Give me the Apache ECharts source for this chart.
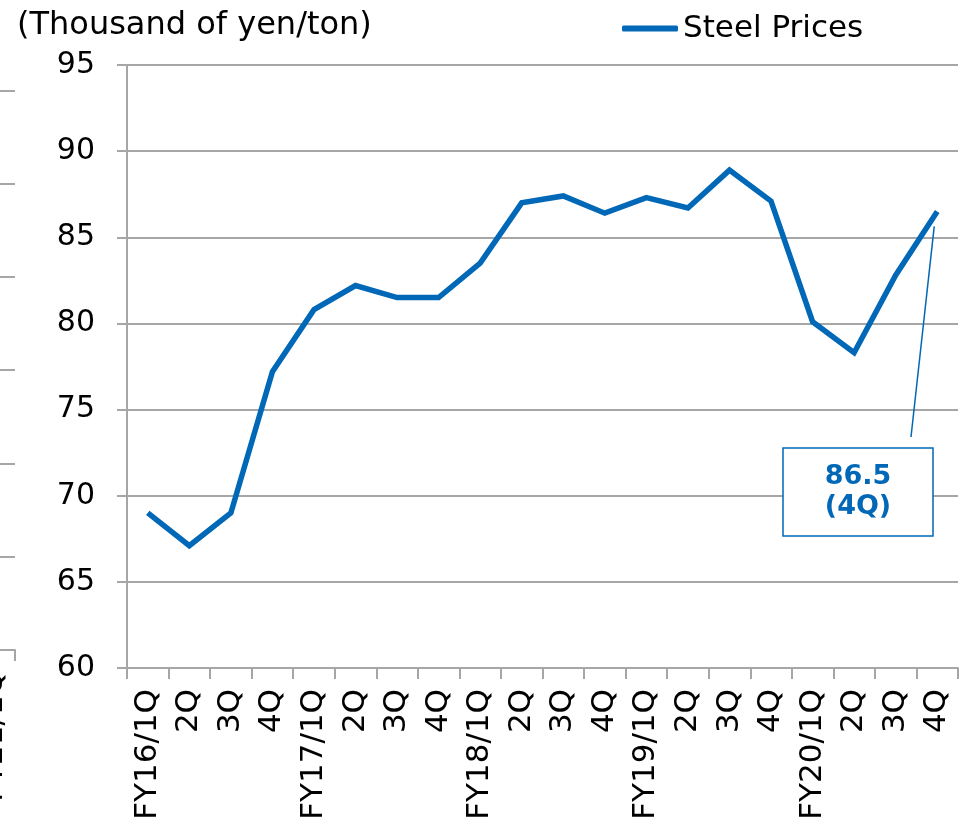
<!DOCTYPE html>
<html>
<head>
<meta charset="utf-8">
<script src="https://cdn.jsdelivr.net/npm/echarts@6/dist/echarts.min.js"></script>
<style>
html,body{margin:0;padding:0;background:#fff;}
#chart{width:978px;height:826px;}
</style>
</head>
<body>
<div id="chart"></div>
<script>
const categories = ['FY16/1Q','2Q','3Q','4Q','FY17/1Q','2Q','3Q','4Q','FY18/1Q','2Q','3Q','4Q','FY19/1Q','2Q','3Q','4Q','FY20/1Q','2Q','3Q','4Q'];
const steelPrices = [69.0,67.1,69.0,77.2,80.8,82.2,81.5,81.5,83.5,87.0,87.4,86.4,87.3,86.7,88.9,87.1,80.1,78.3,82.8,86.5];
const yTicks = {min: 60, max: 95, interval: 5};
const unitLabel = '(Thousand of yen/ton)';
const seriesName = 'Steel Prices';
const annotationText = '86.5\n(4Q)';
const annotationIndex = 19;
// clipped neighbouring chart at the left edge
const prevCategories = ['', '', '', '', '', '', '', 'FY21/1Q'];

const FONT = 'DejaVu Sans';
const GRID_COLOR = '#a6a6a6';
const BLUE = '#0068b7';

const chart = echarts.init(document.getElementById('chart'));
const option = {
  animation: false,
  textStyle: {fontFamily: FONT},
  title: {
    text: unitLabel, left: 12, top: 5,
    textStyle: {fontFamily: FONT, fontSize: 32, fontWeight: 'normal', color: '#000'}
  },
  legend: {
    data: [{name: seriesName, icon: 'roundRect'}], left: 617, top: 8,
    itemWidth: 56, itemHeight: 6, itemGap: 5,
    itemStyle: {color: BLUE},
    textStyle: {fontFamily: FONT, fontSize: 31, color: '#000'}
  },
  grid: [
    {left: 127, right: 20, top: 65, bottom: 158, containLabel: false, outerBoundsMode: 'none'},
    {left: -317, right: 963, top: -3, bottom: 176, containLabel: false, outerBoundsMode: 'none'}
  ],
  xAxis: [
    {
      type: 'category', gridIndex: 0, data: categories, boundaryGap: true,
      axisLine: {lineStyle: {color: GRID_COLOR, width: 2}},
      axisTick: {show: true, alignWithLabel: false, length: 11, lineStyle: {color: GRID_COLOR, width: 2}},
      axisLabel: {interval: 0, rotate: 90, fontSize: 31, color: '#000', margin: 21, fontFamily: FONT}
    },
    {
      type: 'category', gridIndex: 1, data: prevCategories, boundaryGap: true,
      axisLine: {lineStyle: {color: GRID_COLOR, width: 2}},
      axisTick: {show: true, length: 11, lineStyle: {color: GRID_COLOR, width: 2}},
      axisLabel: {interval: 0, rotate: 90, fontSize: 31, color: '#000', margin: 21, fontFamily: FONT}
    }
  ],
  yAxis: [
    {
      type: 'value', gridIndex: 0, min: yTicks.min, max: yTicks.max, interval: yTicks.interval,
      axisLine: {show: true, lineStyle: {color: GRID_COLOR, width: 2}},
      axisTick: {show: true, length: 10, lineStyle: {color: GRID_COLOR, width: 2}},
      axisLabel: {fontSize: 30, color: '#000', margin: 32, fontFamily: FONT},
      splitLine: {show: true, lineStyle: {color: GRID_COLOR, width: 2}}
    },
    {
      type: 'value', gridIndex: 1, min: 0, max: 7, interval: 1,
      axisLine: {show: false}, axisTick: {show: false}, axisLabel: {show: false},
      splitLine: {show: true, lineStyle: {color: GRID_COLOR, width: 2}}
    }
  ],
  series: [
    {
      name: seriesName, type: 'line', xAxisIndex: 0, yAxisIndex: 0,
      data: steelPrices, symbol: 'none', smooth: false,
      lineStyle: {color: BLUE, width: 5.5, join: 'miter'},
      itemStyle: {color: BLUE}
    }
  ]
};
chart.setOption(option);

// annotation box with leader line to the last point
const pt = chart.convertToPixel({xAxisIndex: 0, yAxisIndex: 0}, [annotationIndex, steelPrices[annotationIndex]]);
const box = {x: 783, y: 448, w: 150, h: 88};
chart.setOption({
  graphic: [
    {
      type: 'line', z: 100,
      shape: {x1: box.x + 128, y1: box.y - 11, x2: pt[0] - 3, y2: pt[1] + 15},
      style: {stroke: BLUE, lineWidth: 1.5}
    },
    {
      type: 'rect', z: 100,
      shape: {x: box.x, y: box.y, width: box.w, height: box.h},
      style: {fill: '#fff', stroke: BLUE, lineWidth: 1.5}
    },
    {
      type: 'text', z: 101,
      x: box.x + box.w / 2, y: box.y + box.h / 2,
      style: {
        text: annotationText, fill: BLUE, align: 'center', verticalAlign: 'middle',
        font: 'bold 27px "DejaVu Sans"', lineHeight: 30
      }
    }
  ]
});
</script>
</body>
</html>
